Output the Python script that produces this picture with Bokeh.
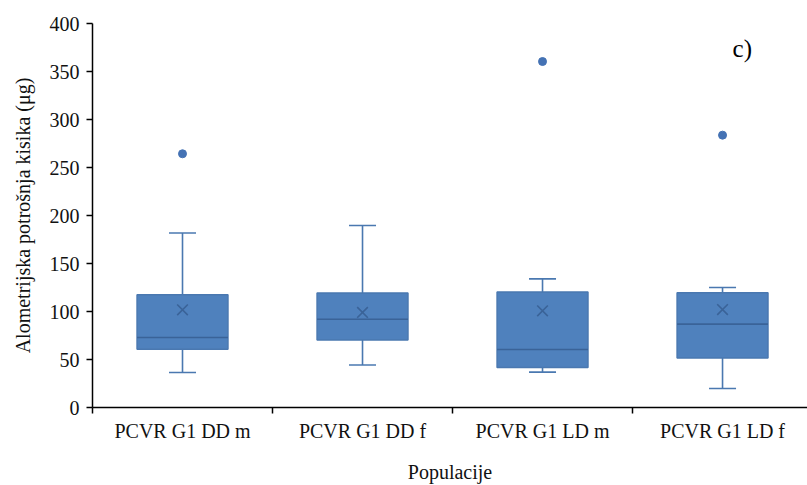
from bokeh.plotting import figure
from bokeh.models import Range1d, FixedTicker, Label
from bokeh.embed import file_html
from bokeh.resources import INLINE

categories = ["PCVR G1 DD m", "PCVR G1 DD f", "PCVR G1 LD m", "PCVR G1 LD f"]
whisker_low = [36.5, 44.2, 36.8, 19.8]
q1 = [60.8, 70.2, 41.7, 51.5]
median = [72.9, 92.0, 60.4, 86.8]
q3 = [117.4, 119.2, 120.2, 119.5]
whisker_high = [181.7, 189.6, 134.0, 125.0]
mean = [101.8, 99.0, 100.7, 102.0]
outliers = [264.3, 0, 360.4, 283.7]
has_outlier = [True, False, True, True]
y_ticks = [0, 50, 100, 150, 200, 250, 300, 350, 400]

xs = [i + 0.5 for i in range(len(categories))]

FONT = "Liberation Serif"
BOX = "#4F81BD"
EDGE = "#4A78B0"
DARK = "#3A6398"

p = figure(width=807, height=485, output_backend="svg", toolbar_location=None,
           x_range=Range1d(0, 3.972), y_range=Range1d(0, 400),
           min_border_left=92, min_border_right=0, min_border_top=23, min_border_bottom=78)
p.outline_line_color = None
p.xgrid.visible = False
p.ygrid.visible = False

bw = 0.505
cw = 0.15
# whiskers
p.segment(x0=xs, y0=q3, x1=xs, y1=whisker_high, line_color=EDGE, line_width=1.6)
p.segment(x0=xs, y0=whisker_low, x1=xs, y1=q1, line_color=EDGE, line_width=1.6)
p.segment(x0=[x - cw / 2 for x in xs], y0=whisker_high, x1=[x + cw / 2 for x in xs], y1=whisker_high,
          line_color=EDGE, line_width=1.6)
p.segment(x0=[x - cw / 2 for x in xs], y0=whisker_low, x1=[x + cw / 2 for x in xs], y1=whisker_low,
          line_color=EDGE, line_width=1.6)
# boxes
p.vbar(x=xs, width=bw, bottom=q1, top=q3, fill_color=BOX, line_color=EDGE, line_width=1.5)
p.segment(x0=[x - bw / 2 for x in xs], y0=median, x1=[x + bw / 2 for x in xs], y1=median,
          line_color=DARK, line_width=1.6)
p.scatter(x=xs, y=mean, marker="x", size=15, line_color=DARK, line_width=1.6)
ox = [x for x, h in zip(xs, has_outlier) if h]
oy = [v for v, h in zip(outliers, has_outlier) if h]
p.scatter(x=ox, y=oy, marker="circle", size=8, fill_color="#4472B4", line_color="#4472B4")

# axes
for ax in (p.xaxis[0], p.yaxis[0]):
    ax.axis_line_color = "black"
    ax.axis_line_width = 1.5
    ax.major_label_text_font = FONT
    ax.major_label_text_font_size = "20px"
    ax.major_label_text_color = "#111111"
    ax.axis_label_text_font = FONT
    ax.axis_label_text_font_size = "20px"
    ax.axis_label_text_font_style = "normal"
    ax.axis_label_text_color = "#111111"

p.yaxis.ticker = FixedTicker(ticks=y_ticks, minor_ticks=[])
p.yaxis.major_tick_out = 6
p.yaxis.major_tick_in = 0
p.yaxis.major_tick_line_width = 1.5
p.yaxis.minor_tick_line_color = None
p.yaxis.major_label_standoff = 7
p.yaxis.axis_label = "Alometrijska potrošnja kisika (μg)"
p.yaxis.axis_label_standoff = 13

p.xaxis.ticker = FixedTicker(ticks=xs, minor_ticks=[0, 1, 2, 3, 4])
p.xaxis.major_label_overrides = {x: c for x, c in zip(xs, categories)}
p.xaxis.major_tick_line_color = None
p.xaxis.major_tick_out = 0
p.xaxis.major_tick_in = 0
p.xaxis.minor_tick_out = 6
p.xaxis.minor_tick_in = 0
p.xaxis.minor_tick_line_width = 1.5
p.xaxis.minor_tick_line_color = "black"
p.xaxis.major_label_standoff = 6
p.xaxis.axis_label = "Populacije"
p.xaxis.axis_label_standoff = 16

p.add_layout(Label(x=3.556, y=373.6, text="c)", text_font=FONT, text_font_size="25px",
                   text_color="black", text_baseline="middle"))

open("out.html", "w").write(file_html(p, INLINE))
